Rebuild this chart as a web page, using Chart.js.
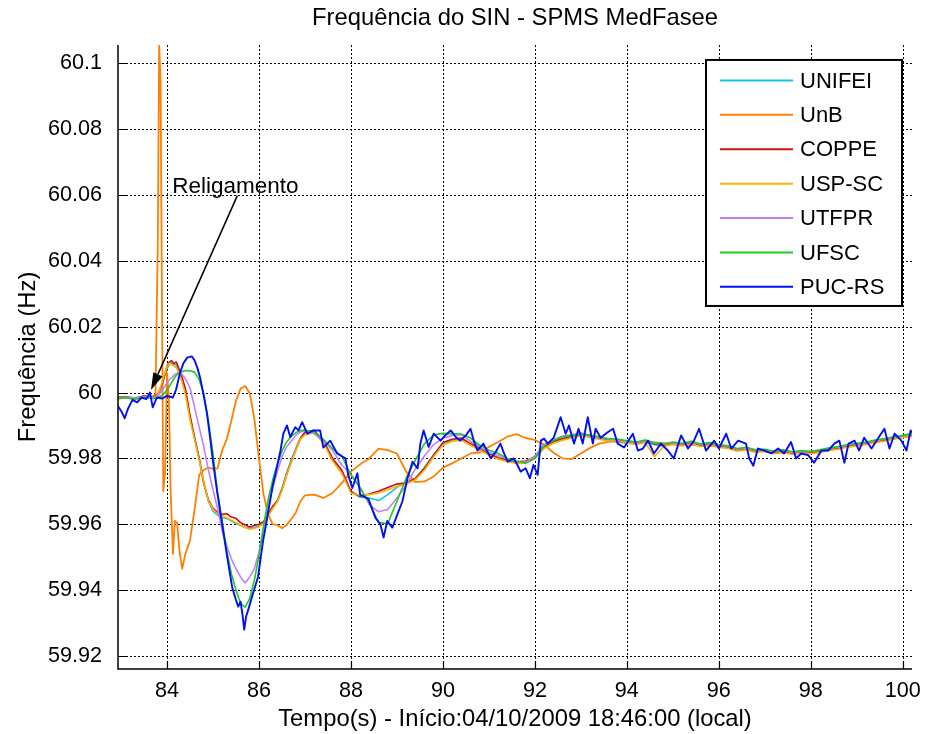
<!DOCTYPE html>
<html>
<head>
<meta charset="utf-8">
<title>Frequência do SIN - SPMS MedFasee</title>
<script src="https://cdn.jsdelivr.net/npm/chart.js@4.4.0/dist/chart.umd.min.js"></script>
<style>
  html, body { margin: 0; padding: 0; background: #fff; }
</style>
</head>
<body>
<canvas id="grafico" width="938" height="734"></canvas>
<script>
// eixos
const ticksX = [84, 86, 88, 90, 92, 94, 96, 98, 100];
const ticksY = [59.92, 59.94, 59.96, 59.98, 60, 60.02, 60.04, 60.06, 60.08, 60.1];

// tempo comum (s) para as PMUs mais suaves
const tempo = [
  82.9, 83.1, 83.3, 83.5, 83.7, 83.8, 83.85, 83.9, 83.95, 84.0,
  84.05, 84.1, 84.15, 84.2, 84.3, 84.4, 84.5, 84.6, 84.7, 84.8,
  84.9, 85.0, 85.1, 85.2, 85.3, 85.4, 85.5, 85.6, 85.7, 85.8,
  85.9, 86.0, 86.1, 86.2, 86.3, 86.4, 86.5, 86.6, 86.7, 86.8,
  86.9, 87.0, 87.2, 87.4, 87.6, 87.8, 88.0, 88.2, 88.4, 88.6,
  88.8, 89.0, 89.2, 89.4, 89.6, 89.8, 90.0, 90.2, 90.4, 90.6,
  90.8, 91.0, 91.2, 91.4, 91.6, 91.8, 92.0, 92.2, 92.4, 92.6,
  92.8, 93.0, 93.2, 93.4, 93.6, 93.8, 94.0, 94.2, 94.4, 94.6,
  94.8, 95.0, 95.2, 95.4, 95.6, 95.8, 96.0, 96.2, 96.4, 96.6,
  96.8, 97.0, 97.2, 97.4, 97.6, 97.8, 98.0, 98.2, 98.4, 98.6,
  98.8, 99.0, 99.2, 99.4, 99.6, 99.8, 100.0, 100.2, 100.3
];

const freqUnifei = [
  59.9982, 59.9986, 59.9984, 59.9988, 59.9984, 59.9992, 60.0005, 60.0025, 60.0048, 60.0072,
  60.0085, 60.0090, 60.0086, 60.0084, 60.0052, 60.0005, 59.9928, 59.9865, 59.9800, 59.9725,
  59.9670, 59.9640, 59.9628, 59.9620, 59.9618, 59.9610, 59.9602, 59.9596, 59.9590, 59.9588,
  59.9590, 59.9595, 59.9605, 59.9628, 59.9652, 59.9672, 59.9708, 59.9755, 59.9795, 59.9830,
  59.9862, 59.9878, 59.9880, 59.9850, 59.9798, 59.9760, 59.9698, 59.9682, 59.9680, 59.9672,
  59.9690, 59.9712, 59.9728, 59.9740, 59.9772, 59.9812, 59.9846, 59.9855, 59.9858, 59.9842,
  59.9828, 59.9812, 59.9800, 59.9792, 59.9788, 59.9790, 59.9802, 59.9832, 59.9848, 59.9856,
  59.9864, 59.9872, 59.9866, 59.9860, 59.9855, 59.9850, 59.9846, 59.9844, 59.9850, 59.9842,
  59.9838, 59.9844, 59.9840, 59.9846, 59.9838, 59.9842, 59.9836, 59.9832, 59.9824, 59.9828,
  59.9820, 59.9823, 59.9816, 59.9820, 59.9814, 59.9818, 59.9816, 59.9820, 59.9826, 59.9830,
  59.9836, 59.9840, 59.9844, 59.9850, 59.9854, 59.9860, 59.9866, 59.9872, 59.9874
];

const freqCoppe = [
  59.9985, 59.9988, 59.9982, 59.9990, 59.9985, 59.9995, 60.0010, 60.0030, 60.0055, 60.0080,
  60.0092, 60.0097, 60.0088, 60.0093, 60.0060, 60.0012, 59.9930, 59.9862, 59.9800, 59.9725,
  59.9675, 59.9648, 59.9636, 59.9630, 59.9632, 59.9622, 59.9618, 59.9605, 59.9598, 59.9592,
  59.9596, 59.9600, 59.9608, 59.9630, 59.9655, 59.9670, 59.9705, 59.9750, 59.9790, 59.9825,
  59.9860, 59.9880, 59.9885, 59.9855, 59.9800, 59.9765, 59.9700, 59.9685, 59.9692, 59.9700,
  59.9712, 59.9722, 59.9726, 59.9738, 59.9770, 59.9810, 59.9848, 59.9858, 59.9862, 59.9845,
  59.9832, 59.9815, 59.9802, 59.9795, 59.9790, 59.9792, 59.9805, 59.9835, 59.9852, 59.9860,
  59.9868, 59.9876, 59.9870, 59.9862, 59.9858, 59.9855, 59.9850, 59.9846, 59.9852, 59.9844,
  59.9840, 59.9846, 59.9842, 59.9848, 59.9840, 59.9845, 59.9838, 59.9835, 59.9826, 59.9830,
  59.9822, 59.9825, 59.9818, 59.9822, 59.9815, 59.9820, 59.9818, 59.9822, 59.9828, 59.9832,
  59.9838, 59.9842, 59.9846, 59.9852, 59.9856, 59.9862, 59.9866, 59.9870, 59.9868
];

const freqUspSc = [
  59.9980, 59.9984, 59.9980, 59.9986, 59.9982, 59.9994, 60.0012, 60.0035, 60.0058, 60.0078,
  60.0088, 60.0085, 60.0080, 60.0076, 60.0045, 59.9995, 59.9918, 59.9858, 59.9795, 59.9728,
  59.9672, 59.9645, 59.9632, 59.9625, 59.9620, 59.9612, 59.9605, 59.9598, 59.9590, 59.9585,
  59.9588, 59.9592, 59.9602, 59.9625, 59.9648, 59.9668, 59.9702, 59.9748, 59.9788, 59.9825,
  59.9858, 59.9872, 59.9878, 59.9848, 59.9792, 59.9755, 59.9695, 59.9688, 59.9690, 59.9695,
  59.9705, 59.9715, 59.9722, 59.9735, 59.9765, 59.9805, 59.9840, 59.9852, 59.9855, 59.9840,
  59.9825, 59.9810, 59.9798, 59.9790, 59.9785, 59.9788, 59.9800, 59.9830, 59.9846, 59.9855,
  59.9862, 59.9868, 59.9864, 59.9858, 59.9852, 59.9856, 59.9848, 59.9842, 59.9848, 59.9805,
  59.9836, 59.9842, 59.9838, 59.9844, 59.9836, 59.9840, 59.9834, 59.9830, 59.9822, 59.9826,
  59.9818, 59.9822, 59.9814, 59.9818, 59.9812, 59.9816, 59.9814, 59.9818, 59.9824, 59.9828,
  59.9834, 59.9838, 59.9842, 59.9848, 59.9852, 59.9858, 59.9864, 59.9868, 59.9870
];

const freqUtfpr = [
  59.9984, 59.9986, 59.9983, 59.9988, 59.9985, 59.9990, 59.9998, 60.0008, 60.0018, 60.0030,
  60.0038, 60.0045, 60.0052, 60.0058, 60.0060, 60.0042, 60.0015, 59.9955, 59.9895, 59.9835,
  59.9765, 59.9705, 59.9648, 59.9580, 59.9535, 59.9495, 59.9465, 59.9440, 59.9422, 59.9440,
  59.9465, 59.9515, 59.9585, 59.9655, 59.9712, 59.9760, 59.9805, 59.9835, 59.9852, 59.9870,
  59.9880, 59.9884, 59.9875, 59.9852, 59.9825, 59.9780, 59.9752, 59.9712, 59.9660, 59.9638,
  59.9645, 59.9680, 59.9718, 59.9768, 59.9808, 59.9842, 59.9862, 59.9870, 59.9872, 59.9852,
  59.9835, 59.9818, 59.9808, 59.9798, 59.9790, 59.9788, 59.9808, 59.9842, 59.9856, 59.9868,
  59.9872, 59.9878, 59.9868, 59.9864, 59.9858, 59.9856, 59.9852, 59.9848, 59.9854, 59.9846,
  59.9842, 59.9848, 59.9844, 59.9850, 59.9842, 59.9846, 59.9840, 59.9836, 59.9828, 59.9832,
  59.9824, 59.9826, 59.9820, 59.9824, 59.9817, 59.9822, 59.9820, 59.9824, 59.9830, 59.9834,
  59.9840, 59.9844, 59.9848, 59.9854, 59.9858, 59.9864, 59.9868, 59.9874, 59.9876
];

const freqUfsc = [
  59.9982, 59.9984, 59.9980, 59.9986, 59.9982, 59.9985, 59.9988, 59.9992, 59.9998, 60.0008,
  60.0018, 60.0030, 60.0042, 60.0052, 60.0062, 60.0067, 60.0066, 60.0062, 60.0040, 59.9995,
  59.9915, 59.9815, 59.9695, 59.9610, 59.9520, 59.9450, 59.9400, 59.9360, 59.9348, 59.9375,
  59.9430, 59.9505, 59.9595, 59.9675, 59.9735, 59.9782, 59.9822, 59.9850, 59.9866, 59.9878,
  59.9885, 59.9886, 59.9880, 59.9858, 59.9830, 59.9808, 59.9750, 59.9710, 59.9665, 59.9605,
  59.9602, 59.9670, 59.9740, 59.9795, 59.9845, 59.9872, 59.9876, 59.9875, 59.9874, 59.9862,
  59.9840, 59.9825, 59.9815, 59.9800, 59.9792, 59.9785, 59.9800, 59.9838, 59.9855, 59.9866,
  59.9870, 59.9874, 59.9870, 59.9866, 59.9860, 59.9858, 59.9854, 59.9850, 59.9856, 59.9848,
  59.9844, 59.9850, 59.9846, 59.9852, 59.9844, 59.9848, 59.9842, 59.9838, 59.9830, 59.9834,
  59.9826, 59.9828, 59.9822, 59.9826, 59.9820, 59.9824, 59.9822, 59.9826, 59.9832, 59.9836,
  59.9842, 59.9846, 59.9850, 59.9856, 59.9860, 59.9866, 59.9870, 59.9876, 59.9878
];

// UnB: amostragem mais fina no pico do religamento
const tempoUnb = [
  82.9, 83.1, 83.3, 83.5, 83.65, 83.75, 83.8, 83.83, 83.86, 83.89,
  83.92, 83.96, 84.0, 84.04, 84.08, 84.13, 84.17, 84.22, 84.27, 84.33,
  84.4, 84.5, 84.6, 84.7, 84.8, 84.9, 85.0, 85.1, 85.2, 85.3,
  85.4, 85.5, 85.6, 85.7, 85.8, 85.9, 86.0, 86.1, 86.2, 86.3,
  86.4, 86.5, 86.6, 86.7, 86.8, 86.9, 87.0, 87.2, 87.4, 87.6,
  87.8, 88.0, 88.2, 88.4, 88.6, 88.8, 89.0, 89.2, 89.4, 89.6,
  89.8, 90.0, 90.2, 90.4, 90.6, 90.8, 91.0, 91.2, 91.4, 91.6,
  91.8, 92.0, 92.2, 92.4, 92.6, 92.8, 93.0, 93.2, 93.4, 93.6,
  93.8, 94.0, 94.4, 94.8, 95.2, 95.6, 96.0, 96.4, 96.8, 97.2,
  97.6, 98.0, 98.4, 98.8, 99.2, 99.6, 100.0, 100.3
];
const freqUnb = [
  59.9983, 59.9986, 59.9981, 59.9988, 59.9984, 59.9995, 60.0450, 60.1055, 60.0950, 60.0300,
  59.9700, 59.9760, 60.0060, 59.9990, 59.9700, 59.9510, 59.9610, 59.9605, 59.9520, 59.9465,
  59.9510, 59.9550, 59.9645, 59.9750, 59.9765, 59.9772, 59.9768, 59.9770, 59.9825, 59.9858,
  59.9915, 59.9975, 60.0012, 60.0020, 59.9998, 59.9920, 59.9800, 59.9690, 59.9630, 59.9600,
  59.9598, 59.9588, 59.9598, 59.9615, 59.9635, 59.9670, 59.9688, 59.9690, 59.9680, 59.9695,
  59.9725, 59.9760, 59.9782, 59.9800, 59.9830, 59.9825, 59.9815, 59.9760, 59.9728, 59.9730,
  59.9745, 59.9772, 59.9785, 59.9800, 59.9815, 59.9818, 59.9835, 59.9850, 59.9866, 59.9874,
  59.9862, 59.9856, 59.9842, 59.9818, 59.9800, 59.9798, 59.9815, 59.9832, 59.9845, 59.9850,
  59.9852, 59.9848, 59.9850, 59.9846, 59.9842, 59.9840, 59.9836, 59.9828, 59.9822, 59.9820,
  59.9816, 59.9818, 59.9826, 59.9836, 59.9846, 59.9856, 59.9864, 59.9868
];

// PUC-RS: sinal mais ruidoso
const tempoPuc = [
  82.93, 83.0, 83.08, 83.15, 83.25, 83.35, 83.45, 83.55, 83.63, 83.69,
  83.78, 83.9, 84.0, 84.13, 84.2, 84.28, 84.36, 84.44, 84.54, 84.6,
  84.66, 84.72, 84.8, 84.87, 84.94, 85.0, 85.09, 85.2, 85.31, 85.42,
  85.5, 85.55, 85.6, 85.64, 85.68, 85.72, 85.76, 85.87, 85.98, 86.09,
  86.18, 86.29, 86.4, 86.47, 86.53, 86.61, 86.68, 86.79, 86.86, 86.94,
  87.05, 87.18, 87.33, 87.4, 87.55, 87.7, 87.88, 87.94, 88.03, 88.14,
  88.2, 88.38, 88.53, 88.64, 88.71, 88.79, 88.9, 89.01, 89.12, 89.23,
  89.34, 89.45, 89.51, 89.58, 89.69, 89.8, 89.95, 90.05, 90.17, 90.28,
  90.38, 90.5, 90.6, 90.68, 90.75, 90.88, 91.04, 91.15, 91.25, 91.33,
  91.41, 91.54, 91.62, 91.69, 91.8, 91.89, 91.97, 92.06, 92.13, 92.2,
  92.28, 92.41, 92.56, 92.67, 92.74, 92.85, 92.95, 93.04, 93.15, 93.26,
  93.32, 93.43, 93.59, 93.7, 93.8, 93.94, 94.13, 94.24, 94.35, 94.46,
  94.59, 94.74, 94.89, 95.02, 95.18, 95.33, 95.46, 95.57, 95.72, 95.9,
  96.0, 96.16, 96.27, 96.42, 96.59, 96.66, 96.75, 96.85, 96.99, 97.14,
  97.29, 97.42, 97.57, 97.68, 97.79, 97.94, 98.07, 98.23, 98.38, 98.51,
  98.62, 98.73, 98.82, 98.95, 99.05, 99.16, 99.32, 99.47, 99.6, 99.71,
  99.82, 99.97, 100.08, 100.17, 100.25
];
const freqPuc = [
  59.9960, 59.9945, 59.9922, 59.9950, 59.9978, 59.9970, 59.9985, 59.9980, 60.0000, 59.9955,
  59.9985, 59.9982, 59.9990, 59.9985, 60.0010, 60.0058, 60.0090, 60.0106, 60.0110, 60.0098,
  60.0075, 60.0046, 59.9990, 59.9936, 59.9860, 59.9790, 59.9700, 59.9600, 59.9500, 59.9407,
  59.9370, 59.9350, 59.9365, 59.9328, 59.9280, 59.9320, 59.9337, 59.9390, 59.9440, 59.9550,
  59.9620, 59.9710, 59.9780, 59.9825, 59.9875, 59.9900, 59.9865, 59.9895, 59.9885, 59.9910,
  59.9875, 59.9885, 59.9885, 59.9833, 59.9854, 59.9815, 59.9800, 59.9750, 59.9710, 59.9755,
  59.9690, 59.9677, 59.9620, 59.9600, 59.9560, 59.9610, 59.9590, 59.9630, 59.9670, 59.9740,
  59.9790, 59.9770, 59.9845, 59.9885, 59.9835, 59.9875, 59.9854, 59.9870, 59.9885, 59.9865,
  59.9854, 59.9870, 59.9890, 59.9850, 59.9824, 59.9845, 59.9800, 59.9820, 59.9845, 59.9815,
  59.9790, 59.9800, 59.9780, 59.9760, 59.9770, 59.9740, 59.9780, 59.9750, 59.9854, 59.9860,
  59.9845, 59.9863, 59.9925, 59.9875, 59.9900, 59.9845, 59.9890, 59.9845, 59.9925, 59.9845,
  59.9890, 59.9863, 59.9880, 59.9890, 59.9845, 59.9833, 59.9875, 59.9824, 59.9830, 59.9854,
  59.9815, 59.9845, 59.9824, 59.9800, 59.9870, 59.9830, 59.9854, 59.9890, 59.9824, 59.9854,
  59.9830, 59.9875, 59.9830, 59.9854, 59.9845, 59.9800, 59.9778, 59.9830, 59.9824, 59.9815,
  59.9830, 59.9815, 59.9850, 59.9800, 59.9815, 59.9810, 59.9787, 59.9824, 59.9824, 59.9845,
  59.9854, 59.9787, 59.9845, 59.9854, 59.9824, 59.9863, 59.9830, 59.9863, 59.9890, 59.9830,
  59.9875, 59.9854, 59.9824, 59.9885, 59.9875
];

// anotação "Religamento" (em coordenadas dos eixos)
const notaTexto = { t: 84.115, f: 60.0606 };
const notaSeta = { t0: 85.53, f0: 60.0598, t1: 83.652, f1: 60.0008 };

const FONTE = '"Liberation Sans", Arial, Helvetica, sans-serif';

function pontos(ts, fs) {
  const n = Math.min(ts.length, fs.length);
  const out = [];
  for (let i = 0; i < n; i++) out.push({ x: ts[i], y: fs[i] });
  return out;
}

const series = [
  { label: 'UNIFEI', t: tempo, f: freqUnifei, cor: '#12C0F0', w: 1.6 },
  { label: 'UnB', t: tempoUnb, f: freqUnb, cor: '#FF8000', w: 1.8 },
  { label: 'COPPE', t: tempo, f: freqCoppe, cor: '#D01010', w: 1.6 },
  { label: 'USP-SC', t: tempo, f: freqUspSc, cor: '#FFB000', w: 1.6 },
  { label: 'UTFPR', t: tempo, f: freqUtfpr, cor: '#C080FF', w: 1.6 },
  { label: 'UFSC', t: tempo, f: freqUfsc, cor: '#20C820', w: 1.6 },
  { label: 'PUC-RS', t: tempoPuc, f: freqPuc, cor: '#0010F0', w: 1.9 }
];

const datasets = series.map((s, i) => ({
  label: s.label,
  data: pontos(s.t, s.f),
  borderColor: s.cor,
  backgroundColor: s.cor,
  borderWidth: s.w,
  pointRadius: 0,
  tension: 0,
  fill: false,
  borderJoinStyle: 'round',
  order: series.length - i
}));

const ejesMatlab = {
  id: 'ejesMatlab',
  beforeDatasetsDraw(chart) {
    const { ctx, chartArea: a, scales: { x, y } } = chart;
    ctx.save();
    ctx.strokeStyle = '#000';
    ctx.lineWidth = 1;
    ctx.setLineDash([2, 2]);
    ctx.beginPath();
    ticksX.forEach(v => {
      const px = Math.round(x.getPixelForValue(v)) + 0.5;
      ctx.moveTo(px, a.top); ctx.lineTo(px, a.bottom);
    });
    ticksY.forEach(v => {
      const py = Math.round(y.getPixelForValue(v)) + 0.5;
      ctx.moveTo(a.left, py); ctx.lineTo(a.right, py);
    });
    ctx.stroke();
    ctx.restore();
  },
  afterDatasetsDraw(chart) {
    const { ctx, chartArea: a, scales: { x, y } } = chart;
    ctx.save();
    // eixos esquerdo e inferior, com marcas para dentro
    ctx.strokeStyle = '#000';
    ctx.lineWidth = 1.5;
    ctx.beginPath();
    ctx.moveTo(a.left, a.top); ctx.lineTo(a.left, a.bottom); ctx.lineTo(a.right, a.bottom);
    ctx.stroke();
    ctx.lineWidth = 1.2;
    ctx.beginPath();
    ticksX.forEach(v => {
      const px = Math.round(x.getPixelForValue(v)) + 0.5;
      ctx.moveTo(px, a.bottom); ctx.lineTo(px, a.bottom - 8);
    });
    ticksY.forEach(v => {
      const py = Math.round(y.getPixelForValue(v)) + 0.5;
      ctx.moveTo(a.left, py); ctx.lineTo(a.left + 8, py);
    });
    ctx.stroke();

    // seta do religamento
    const x0 = x.getPixelForValue(notaSeta.t0), y0 = y.getPixelForValue(notaSeta.f0);
    const x1 = x.getPixelForValue(notaSeta.t1), y1 = y.getPixelForValue(notaSeta.f1);
    const ang = Math.atan2(y1 - y0, x1 - x0);
    const comp = 17, larg = 5;
    const bx = x1 - comp * Math.cos(ang), by = y1 - comp * Math.sin(ang);
    ctx.lineWidth = 1.5;
    ctx.beginPath();
    ctx.moveTo(x0, y0); ctx.lineTo(bx, by);
    ctx.stroke();
    ctx.fillStyle = '#000';
    ctx.beginPath();
    ctx.moveTo(x1, y1);
    ctx.lineTo(bx + larg * Math.sin(ang), by - larg * Math.cos(ang));
    ctx.lineTo(bx - larg * Math.sin(ang), by + larg * Math.cos(ang));
    ctx.closePath();
    ctx.fill();

    ctx.font = '22.5px ' + FONTE;
    ctx.textAlign = 'left';
    ctx.textBaseline = 'alphabetic';
    ctx.fillText('Religamento', x.getPixelForValue(notaTexto.t), y.getPixelForValue(notaTexto.f));
    ctx.restore();
  },
  afterDraw(chart) {
    // legenda no canto superior direito
    const { ctx, chartArea: a } = chart;
    const w = 196, h = 246;
    const lx = a.right - 10 - w, ly = a.top + 15;
    ctx.save();
    ctx.fillStyle = '#fff';
    ctx.fillRect(lx, ly, w, h);
    ctx.strokeStyle = '#000';
    ctx.lineWidth = 2;
    ctx.strokeRect(lx, ly, w, h);
    ctx.font = '22px ' + FONTE;
    ctx.textAlign = 'left';
    ctx.textBaseline = 'middle';
    series.forEach((s, i) => {
      const yy = ly + 20.5 + i * 34.4;
      ctx.strokeStyle = s.cor;
      ctx.lineWidth = 2;
      ctx.beginPath();
      ctx.moveTo(lx + 14, yy); ctx.lineTo(lx + 87, yy);
      ctx.stroke();
      ctx.fillStyle = '#000';
      ctx.fillText(s.label, lx + 94, yy + 1);
    });
    ctx.restore();
  }
};

const grafico = new Chart(document.getElementById('grafico'), {
  type: 'line',
  data: { datasets },
  options: {
    responsive: false,
    animation: false,
    parsing: true,
    layout: { padding: { left: 0, right: 26, top: 0, bottom: 0 } },
    plugins: {
      legend: { display: false },
      tooltip: { enabled: false },
      title: {
        display: true,
        text: 'Frequência do SIN - SPMS MedFasee',
        fullSize: false,
        color: '#000',
        font: { family: FONTE, size: 23.8, weight: 'normal' },
        padding: { top: 4, bottom: 12.4 }
      }
    },
    scales: {
      x: {
        type: 'linear',
        min: 82.935,
        max: 100.2,
        grid: { display: false },
        border: { display: false },
        afterBuildTicks: s => { s.ticks = ticksX.map(v => ({ value: v })); },
        afterFit: s => { s.height = 65; },
        ticks: {
          color: '#000',
          font: { family: FONTE, size: 21.6 },
          padding: 1,
          maxRotation: 0,
          autoSkip: false,
          callback: v => String(v)
        },
        title: {
          display: true,
          text: 'Tempo(s) - Início:04/10/2009 18:46:00 (local)',
          color: '#000',
          font: { family: FONTE, size: 23.8 },
          padding: { top: 0, bottom: 0 }
        }
      },
      y: {
        type: 'linear',
        min: 59.91605,
        max: 60.10556,
        grid: { display: false },
        border: { display: false },
        afterBuildTicks: s => { s.ticks = ticksY.map(v => ({ value: v })); },
        afterFit: s => { s.width = 118; },
        ticks: {
          color: '#000',
          font: { family: FONTE, size: 21.6 },
          padding: 8,
          autoSkip: false,
          callback: v => String(Number(v.toFixed(2)))
        },
        title: {
          display: true,
          text: 'Frequência (Hz)',
          color: '#000',
          font: { family: FONTE, size: 23.8 },
          padding: { top: 14, bottom: 0 }
        }
      }
    }
  },
  plugins: [ejesMatlab]
});
</script>
</body>
</html>
